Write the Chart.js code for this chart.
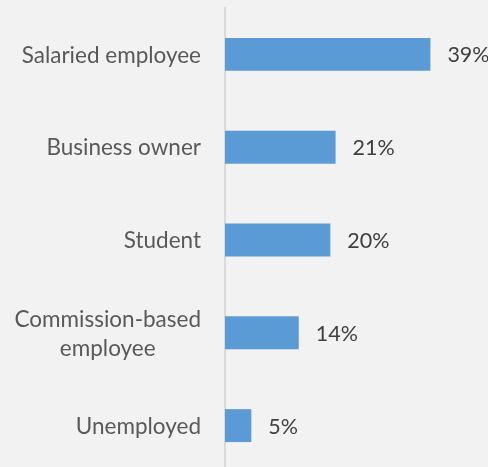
<!DOCTYPE html>
<html>
<head>
<meta charset="utf-8">
<script src="https://cdn.jsdelivr.net/npm/chart.js@4.4.1/dist/chart.umd.min.js"></script>
<style>
  html, body { margin: 0; padding: 0; background: #f2f2f2; overflow: hidden; }
  #wrap { width: 488px; height: 467px; overflow: hidden; }
  #wrap div { width: 488px; height: 473px; }
</style>
</head>
<body>
<div id="wrap"><div><canvas id="myChart"></canvas></div></div>
<script>
// occupation split, in percent
var categories = [
  ['Salaried employee'],
  ['Business owner'],
  ['Student'],
  ['Commission-based', 'employee'],
  ['Unemployed']
];
var shares = [39, 21, 20, 14, 5];

var labelFont = '22.5px Lato, "Open Sans", sans-serif';
var valueFont = '21.5px Lato, "Open Sans", sans-serif';

// category names on the left and the % next to each bar
var barLabels = {
  id: 'barLabels',
  afterDatasetsDraw: function (chart) {
    var ctx = chart.ctx;
    var xs = chart.scales.x, ys = chart.scales.y;
    var lineH = 29;
    ctx.save();
    ctx.textBaseline = 'middle';
    for (var i = 0; i < categories.length; i++) {
      var y = ys.getPixelForValue(i);
      var lines = categories[i];
      var w = 0;
      ctx.font = labelFont;
      lines.forEach(function (l) { w = Math.max(w, ctx.measureText(l).width); });
      var right = xs.left - 24;
      var cx = right - w / 2;
      ctx.fillStyle = '#595959';
      ctx.textAlign = 'center';
      lines.forEach(function (l, k) {
        ctx.fillText(l, cx, y + 1 + (k - (lines.length - 1) / 2) * lineH);
      });

      ctx.font = valueFont;
      ctx.fillStyle = '#404040';
      ctx.textAlign = 'left';
      ctx.fillText(shares[i] + '%', xs.getPixelForValue(shares[i]) + 17, y + 1);
    }
    ctx.restore();
  }
};

var ctx = document.getElementById('myChart');
new Chart(ctx, {
  type: 'bar',
  data: {
    labels: categories.map(function (c) { return c.join(' '); }),
    datasets: [{
      data: shares,
      backgroundColor: '#5b9bd5',
      borderWidth: 0,
      categoryPercentage: 1,
      barPercentage: 0.355
    }]
  },
  options: {
    indexAxis: 'y',
    responsive: true,
    maintainAspectRatio: false,
    animation: false,
    layout: { padding: { top: 8, right: 26, bottom: 1, left: 0 } },
    plugins: {
      legend: { display: false },
      tooltip: { enabled: false }
    },
    scales: {
      x: { display: false, min: 0, max: 45 },
      y: {
        grid: { display: false },
        border: { display: true, color: '#d9d9d9', width: 2 },
        ticks: { display: false },
        afterFit: function (scale) { scale.width = 225; }
      }
    }
  },
  plugins: [barLabels]
});
</script>
</body>
</html>
